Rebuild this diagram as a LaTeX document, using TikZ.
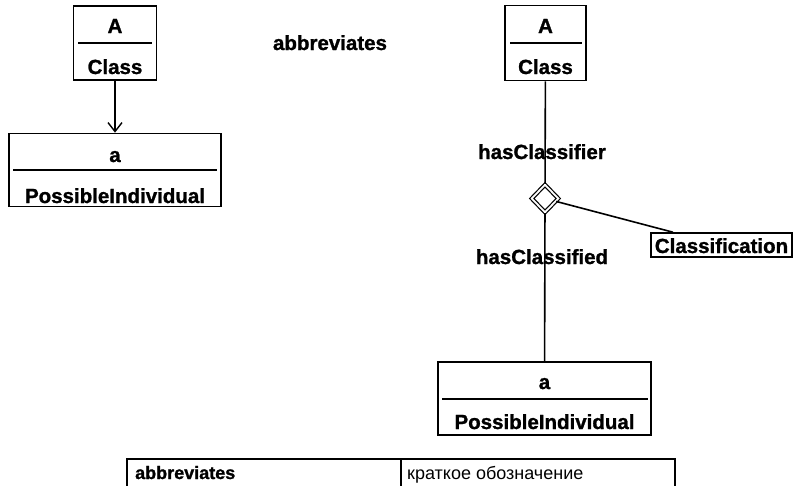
\documentclass[tikz,border=0pt]{standalone}
\usepackage{fontspec}
\setmainfont{Liberation Sans}[BoldFeatures={FakeBold=1.2}]
\usetikzlibrary{arrows.meta,shapes.geometric}
\tikzset{
  umlbox/.style={draw, line width=1.6pt, rectangle, inner sep=0pt},
  lbl/.style={font=\bfseries\fontsize{20.5}{24}\selectfont, inner sep=0pt, anchor=base},
  tbl/.style={font=\fontsize{18}{21}\selectfont, inner sep=0pt, anchor=base west},
  conn/.style={line width=1.6pt},
  divider/.style={line width=1.4pt},
}
\begin{document}
\begin{tikzpicture}[x=1pt,y=-1pt]
\useasboundingbox (0,0) rectangle (794,485);
% left side
\node[umlbox, minimum width=83pt, minimum height=74pt] (clsL) at (115,43) {};
\node[lbl] (AL) at (115,33) {A};
\node[lbl] (ClassL) at (115,74) {Class};
\draw[divider] (78,43) -- (152,43);
\node[umlbox, minimum width=212pt, minimum height=73pt] (indL) at (115,170) {};
\node[lbl] (aL) at (115,162) {a};
\draw[divider] (13,170) -- (217,170);
\node[lbl] (PIL) at (115,203) {PossibleIndividual};
\draw[conn, -{Straight Barb[length=9pt,width=14pt,line width=1.4pt]}] (clsL) -- (indL);
% title
\node[lbl] (abbr) at (330,50) {abbreviates};
% right side
\node[umlbox, minimum width=81pt, minimum height=75pt] (clsR) at (545.5,43) {};
\node[lbl] (AR) at (545.5,33) {A};
\node[lbl] (ClassR) at (545.5,74) {Class};
\draw[divider] (510,43) -- (582,43);
\node[draw, diamond, line width=1.2pt, double, double distance=1.8pt, fill=white,
      minimum width=27pt, minimum height=28pt, inner sep=0pt] (dia) at (545,198.5) {};
\node[umlbox, minimum width=141pt, minimum height=24pt] (clf) at (721.5,245) {};
\node[lbl] (clft) at (721.5,253) {Classification};
\node[umlbox, minimum width=213pt, minimum height=73pt] (indR) at (544.5,398.5) {};
\node[lbl] (aR) at (544.5,389) {a};
\draw[divider] (442,399) -- (648,399);
\node[lbl] (PIR) at (544.5,429) {PossibleIndividual};
\draw[conn] (clsR) -- (dia);
\draw[conn] (dia) -- (indR);
\draw[conn] (dia) -- (clf);
\node[lbl] (hc1) at (542,159) {hasClassifier};
\node[lbl] (hc2) at (542,264) {hasClassified};
% table
\draw[line width=1.2pt] (127,490) -- (127,459) -- (675,459) -- (675,490);
\draw[line width=1.2pt] (401,459) -- (401,490);
\node[tbl, font=\bfseries\fontsize{18}{21}\selectfont] (t1) at (135,479) {abbreviates};
\node[tbl] (t2) at (407,479) {краткое обозначение};
\end{tikzpicture}
\end{document}
